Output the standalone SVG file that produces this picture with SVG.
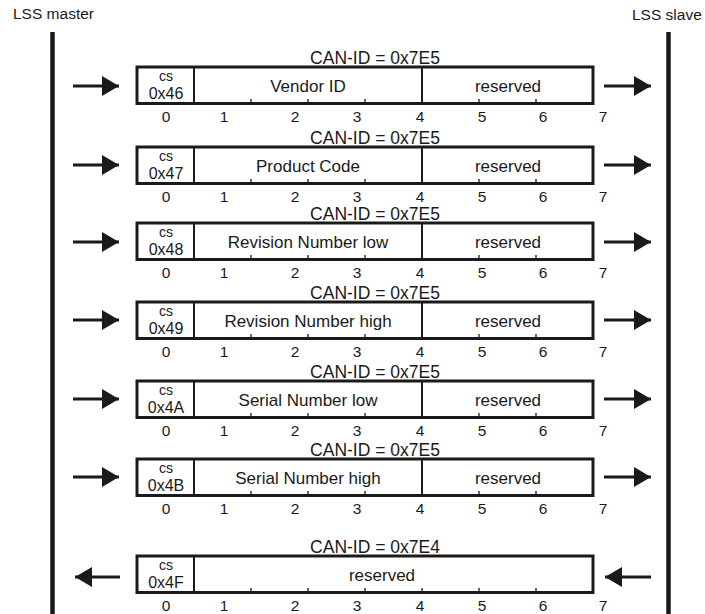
<svg xmlns="http://www.w3.org/2000/svg" width="705" height="614" viewBox="0 0 705 614">
<style>
text{font-family:"Liberation Sans",Arial,sans-serif;fill:#1a1a1a}
.title{font-size:15.5px}
.can{font-size:17.5px;text-anchor:middle}
.lbl{font-size:17px;text-anchor:middle}
.cs{font-size:14px;text-anchor:middle}
.hex{font-size:16px;text-anchor:middle}
.num{font-size:15.5px;text-anchor:middle}
.frame{fill:#fff;stroke:#1a1a1a;stroke-width:3}
.div{stroke:#1a1a1a;stroke-width:2;fill:none}
.tick{stroke:#1a1a1a;stroke-width:1.3;fill:none}
.life{stroke:#1a1a1a;stroke-width:4.5}
.arr{stroke:#1a1a1a;stroke-width:3;fill:none;marker-end:url(#ah)}
</style>
<defs>
<marker id="ah" markerUnits="userSpaceOnUse" markerWidth="18" markerHeight="20" refX="17" refY="10" orient="auto">
<path d="M0,0 L17,10 L0,20 z" fill="#1a1a1a"/>
</marker>
<g id="nums">
<text class="num" x="166" y="54.5">0</text>
<text class="num" x="224" y="54.5">1</text>
<text class="num" x="295" y="54.5">2</text>
<text class="num" x="357" y="54.5">3</text>
<text class="num" x="420" y="54.5">4</text>
<text class="num" x="482" y="54.5">5</text>
<text class="num" x="543" y="54.5">6</text>
<text class="num" x="603" y="54.5">7</text>
</g>
</defs>
<rect width="705" height="614" fill="#fff"/>
<g id="lss-master">
<text class="title" x="13" y="19">LSS master</text>
<line class="life" x1="52.5" y1="32" x2="52.5" y2="614"/>
</g>
<g id="lss-slave">
<text class="title" x="632" y="20">LSS slave</text>
<line class="life" x1="668.5" y1="32" x2="668.5" y2="614"/>
</g>
<g id="msg-vendor" transform="translate(0,67)">
<text class="can" x="375" y="-3">CAN-ID = 0x7E5</text>
<rect class="frame" x="137" y="0" width="456" height="36.5"/>
<path class="div" d="M194,0V36.5M422,0V36.5"/>
<path class="tick" d="M251,36V32M308,36V32M365,36V32M479,36V32M536,36V32"/>
<text class="cs" x="166" y="14">cs</text>
<text class="hex" x="166" y="32">0x46</text>
<text class="lbl" x="308" y="25">Vendor ID</text>
<text class="lbl" x="508" y="25">reserved</text>
<use href="#nums"/>
</g>
<g id="msg-product" transform="translate(0,147)">
<text class="can" x="375" y="-3">CAN-ID = 0x7E5</text>
<rect class="frame" x="137" y="0" width="456" height="36.5"/>
<path class="div" d="M194,0V36.5M422,0V36.5"/>
<path class="tick" d="M251,36V32M308,36V32M365,36V32M479,36V32M536,36V32"/>
<text class="cs" x="166" y="14">cs</text>
<text class="hex" x="166" y="32">0x47</text>
<text class="lbl" x="308" y="25">Product Code</text>
<text class="lbl" x="508" y="25">reserved</text>
<use href="#nums"/>
</g>
<g id="msg-revlow" transform="translate(0,223)">
<text class="can" x="375" y="-3">CAN-ID = 0x7E5</text>
<rect class="frame" x="137" y="0" width="456" height="36.5"/>
<path class="div" d="M194,0V36.5M422,0V36.5"/>
<path class="tick" d="M251,36V32M308,36V32M365,36V32M479,36V32M536,36V32"/>
<text class="cs" x="166" y="14">cs</text>
<text class="hex" x="166" y="32">0x48</text>
<text class="lbl" x="308" y="25">Revision Number low</text>
<text class="lbl" x="508" y="25">reserved</text>
<use href="#nums"/>
</g>
<g id="msg-revhigh" transform="translate(0,302)">
<text class="can" x="375" y="-3">CAN-ID = 0x7E5</text>
<rect class="frame" x="137" y="0" width="456" height="36.5"/>
<path class="div" d="M194,0V36.5M422,0V36.5"/>
<path class="tick" d="M251,36V32M308,36V32M365,36V32M479,36V32M536,36V32"/>
<text class="cs" x="166" y="14">cs</text>
<text class="hex" x="166" y="32">0x49</text>
<text class="lbl" x="308" y="25">Revision Number high</text>
<text class="lbl" x="508" y="25">reserved</text>
<use href="#nums"/>
</g>
<g id="msg-serlow" transform="translate(0,381)">
<text class="can" x="375" y="-3">CAN-ID = 0x7E5</text>
<rect class="frame" x="137" y="0" width="456" height="36.5"/>
<path class="div" d="M194,0V36.5M422,0V36.5"/>
<path class="tick" d="M251,36V32M308,36V32M365,36V32M479,36V32M536,36V32"/>
<text class="cs" x="166" y="14">cs</text>
<text class="hex" x="166" y="32">0x4A</text>
<text class="lbl" x="308" y="25">Serial Number low</text>
<text class="lbl" x="508" y="25">reserved</text>
<use href="#nums"/>
</g>
<g id="msg-serhigh" transform="translate(0,459)">
<text class="can" x="375" y="-3">CAN-ID = 0x7E5</text>
<rect class="frame" x="137" y="0" width="456" height="36.5"/>
<path class="div" d="M194,0V36.5M422,0V36.5"/>
<path class="tick" d="M251,36V32M308,36V32M365,36V32M479,36V32M536,36V32"/>
<text class="cs" x="166" y="14">cs</text>
<text class="hex" x="166" y="32">0x4B</text>
<text class="lbl" x="308" y="25">Serial Number high</text>
<text class="lbl" x="508" y="25">reserved</text>
<use href="#nums"/>
</g>
<g id="msg-response" transform="translate(0,556)">
<text class="can" x="375" y="-3">CAN-ID = 0x7E4</text>
<rect class="frame" x="137" y="0" width="456" height="36.5"/>
<path class="div" d="M194,0V36.5"/>
<path class="tick" d="M251,36V32M308,36V32M365,36V32M422,36V32M479,36V32M536,36V32"/>
<text class="cs" x="166" y="14">cs</text>
<text class="hex" x="166" y="32">0x4F</text>
<text class="lbl" x="382" y="25">reserved</text>
<use href="#nums"/>
</g>
<g id="connectors">
<line class="arr" x1="73" y1="86" x2="119" y2="86"/>
<line class="arr" x1="604" y1="86" x2="651" y2="86"/>
<line class="arr" x1="73" y1="165" x2="119" y2="165"/>
<line class="arr" x1="604" y1="165" x2="651" y2="165"/>
<line class="arr" x1="73" y1="242" x2="119" y2="242"/>
<line class="arr" x1="604" y1="242" x2="651" y2="242"/>
<line class="arr" x1="73" y1="320" x2="119" y2="320"/>
<line class="arr" x1="604" y1="320" x2="651" y2="320"/>
<line class="arr" x1="73" y1="399" x2="119" y2="399"/>
<line class="arr" x1="604" y1="399" x2="651" y2="399"/>
<line class="arr" x1="73" y1="477" x2="119" y2="477"/>
<line class="arr" x1="604" y1="477" x2="651" y2="477"/>
<line class="arr" x1="120" y1="577" x2="75" y2="577"/>
<line class="arr" x1="651" y1="577" x2="605" y2="577"/>
</g>
</svg>
